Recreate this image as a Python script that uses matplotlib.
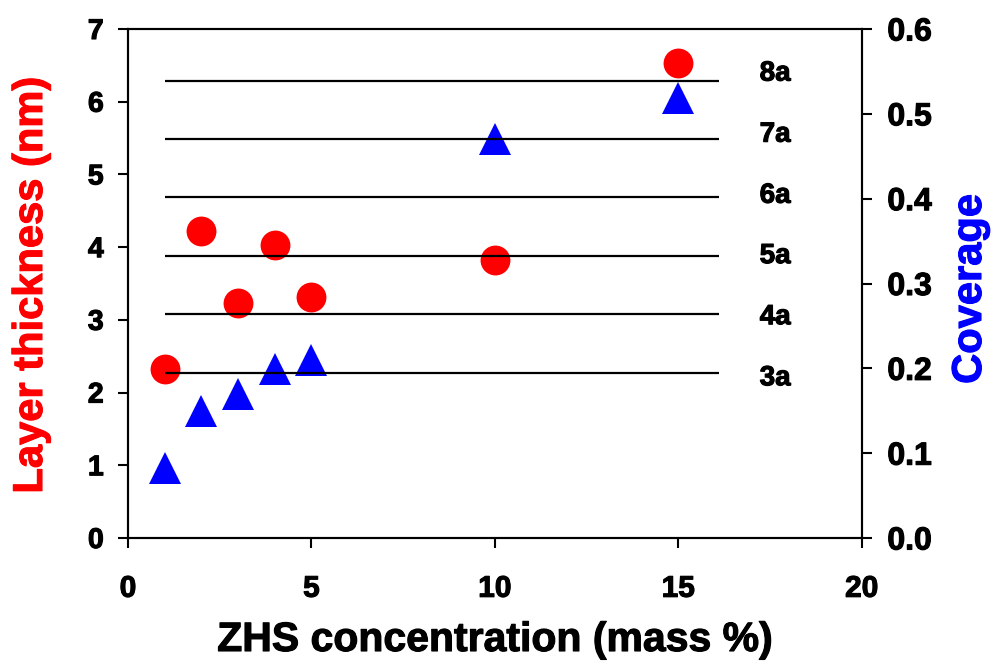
import matplotlib
matplotlib.use("Agg")
import matplotlib.pyplot as plt
import matplotlib.patheffects as pe

# ---- data ----
conc = [1, 2, 3, 4, 5, 10, 15]
thickness = [2.33, 4.22, 3.23, 4.03, 3.32, 3.83, 6.53]
coverage = [0.082, 0.150, 0.170, 0.199, 0.210, 0.470, 0.519]

layer_names = ["3a", "4a", "5a", "6a", "7a", "8a"]
layer_levels = [2.27, 3.08, 3.88, 4.69, 5.49, 6.29]
layer_label_y = [2.10, 2.94, 3.78, 4.61, 5.45, 6.29]
line_x = [1, 16.1]
label_x = 17.64

x_ticks = [0, 5, 10, 15, 20]
yl_ticks = [0, 1, 2, 3, 4, 5, 6, 7]
yr_ticks = [0.0, 0.1, 0.2, 0.3, 0.4, 0.5, 0.6]

BOLD = ["Liberation Sans", "DejaVu Sans"]

plt.rcParams["font.family"] = BOLD
plt.rcParams["font.weight"] = "bold"


def heavy(color="black", w=0.8):
    return [pe.withStroke(linewidth=w, foreground=color)]


W, H = 993, 661
fig = plt.figure(figsize=(W / 100, H / 100), dpi=100)
ax1 = fig.add_axes([128 / W, 1 - 538 / H, (861.7 - 128) / W, (538 - 29) / H])
ax2 = ax1.twinx()
ax1.set_zorder(ax2.get_zorder() + 1)
ax1.patch.set_visible(False)

# markers
ax1.plot(conc, thickness, linestyle="none", marker="o", ms=21.5,
         color="#ff0000", mec="#ff0000", mew=0, zorder=3)
ax2.plot(conc, coverage, linestyle="none", marker="^", ms=22.5,
         color="#0000ff", mec="#0000ff", mew=0, zorder=3)

# layer reference lines and labels
for name, lev, ly in zip(layer_names, layer_levels, layer_label_y):
    ax1.plot(line_x, [lev, lev], color="black", lw=1.6, zorder=4,
             solid_capstyle="butt")
    ax1.text(label_x, ly, name, ha="center", va="baseline",
             fontsize=20, fontweight="bold", path_effects=heavy())

ax1.set_xlim(0, 20)
ax1.set_ylim(0, 7)
ax2.set_ylim(0, 0.6)

ax1.set_xticks(x_ticks)
ax1.set_yticks(yl_ticks)
ax2.set_yticks(yr_ticks)
ax2.set_yticklabels([f"{v:.1f}" for v in yr_ticks])

for ax in (ax1, ax2):
    for sp in ax.spines.values():
        sp.set_linewidth(1.5)

ax1.tick_params(axis="y", direction="out", length=7.5, width=1.5, pad=10,
                labelsize=20.5)
ax1.tick_params(axis="x", direction="out", length=7.5, width=1.5, pad=19,
                labelsize=21.5)
ax2.tick_params(axis="y", direction="out", length=7.5, width=1.5, pad=11,
                labelsize=23)
for lab in (ax1.get_xticklabels() + ax1.get_yticklabels()
            + ax2.get_yticklabels()):
    lab.set_fontweight("bold")
    lab.set_path_effects(heavy())

# axis titles
cx = (128 + 861.7) / 2 / W
fig.text(cx, 1 - 651 / H, "ZHS concentration (mass %)", ha="center",
         va="baseline", fontsize=29.5, fontweight="bold",
         path_effects=heavy())
fig.text(31 / W, 1 - 285 / H, "Layer thickness (nm)", rotation=90,
         ha="center", va="center", fontsize=30, fontweight="bold",
         color="#ff0000", path_effects=heavy("#ff0000"))
fig.text(970 / W, 1 - 289 / H, "Coverage", rotation=90, ha="center",
         va="center", fontsize=30, fontweight="bold", color="#0000ff",
         path_effects=heavy("#0000ff"))

fig.savefig("out.png", dpi=100)
